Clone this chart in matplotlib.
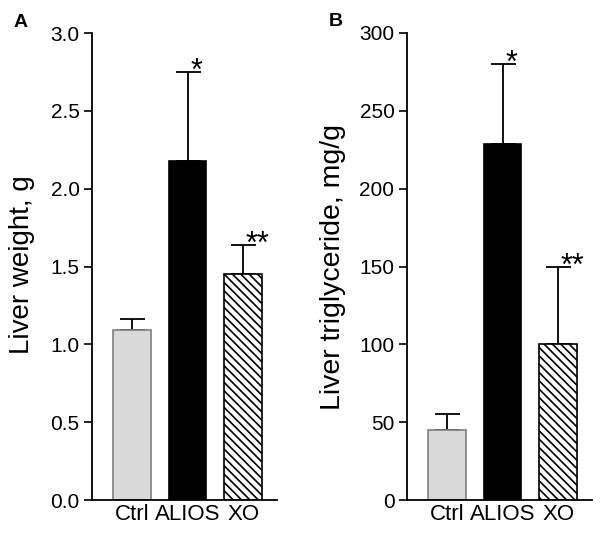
import matplotlib
matplotlib.use("Agg")
import matplotlib.pyplot as plt

plt.rcParams['font.family'] = ['Liberation Sans', 'DejaVu Sans']
plt.rcParams['hatch.linewidth'] = 1.2

groups = ["Ctrl", "ALIOS", "XO"]
weight = [1.09, 2.18, 1.45]
weight_err = [0.07, 0.57, 0.19]
weight_sig = ["", "*", "**"]
tg = [45, 229, 100]
tg_err = [10, 51, 50]
tg_sig = ["", "*", "**"]

fig = plt.figure(figsize=(6, 5.33), dpi=100)
axA = fig.add_axes([92 / 600, 1 - 500 / 533, 185 / 600, 467 / 533])
axB = fig.add_axes([407 / 600, 1 - 500 / 533, 185 / 600, 467 / 533])


def draw_panel(ax, vals, errs, sig, ymax, step, fmt):
    x = range(len(groups))
    fills = ['#d9d9d9', 'black', 'white']
    edges = ['#7f7f7f', 'black', 'black']
    hatches = [None, None, '\\\\\\\\']
    for i in x:
        ax.bar(i, vals[i], width=0.68, color=fills[i], edgecolor=edges[i],
               linewidth=1.2, hatch=hatches[i], zorder=2)
        ax.errorbar(i, vals[i], yerr=[[0], [errs[i]]], fmt='none',
                    ecolor='black', elinewidth=1.3, capsize=9, capthick=1.3,
                    zorder=1)
        if sig[i]:
            # asterisks sit just right of the cap
            ax.text(i + 0.05, vals[i] + errs[i], sig[i],
                    fontsize=22, ha='left', va='center')
    ax.set_xlim(-0.72, 2.61)
    ax.set_ylim(0, ymax)
    ticks = [k * step for k in range(int(round(ymax / step)) + 1)]
    ax.set_yticks(ticks)
    ax.set_yticklabels([fmt.format(t) for t in ticks], fontsize=15)
    ax.set_xticks(list(x))
    ax.set_xticklabels(groups, fontsize=16)
    ax.tick_params(axis='x', length=0, pad=3)
    ax.tick_params(axis='y', length=6, width=1.2, pad=3)
    for s in ['top', 'right']:
        ax.spines[s].set_visible(False)
    for s in ['left', 'bottom']:
        ax.spines[s].set_linewidth(1.3)


draw_panel(axA, weight, weight_err, weight_sig, 3.0, 0.5, "{:.1f}")
draw_panel(axB, tg, tg_err, tg_sig, 300, 50, "{:.0f}")

fig.text(22 / 600, 1 - 265 / 533, "Liver weight, g", rotation=90,
         fontsize=20, ha='center', va='center')
fig.text(333 / 600, 1 - 267 / 533, "Liver triglyceride, mg/g", rotation=90,
         fontsize=20.5, ha='center', va='center')
fig.text(21 / 600, 1 - 22 / 533, "A", fontsize=14, fontweight='bold',
         ha='center', va='center')
fig.text(336 / 600, 1 - 21 / 533, "B", fontsize=14, fontweight='bold',
         ha='center', va='center')

fig.savefig("out.png", dpi=100)
